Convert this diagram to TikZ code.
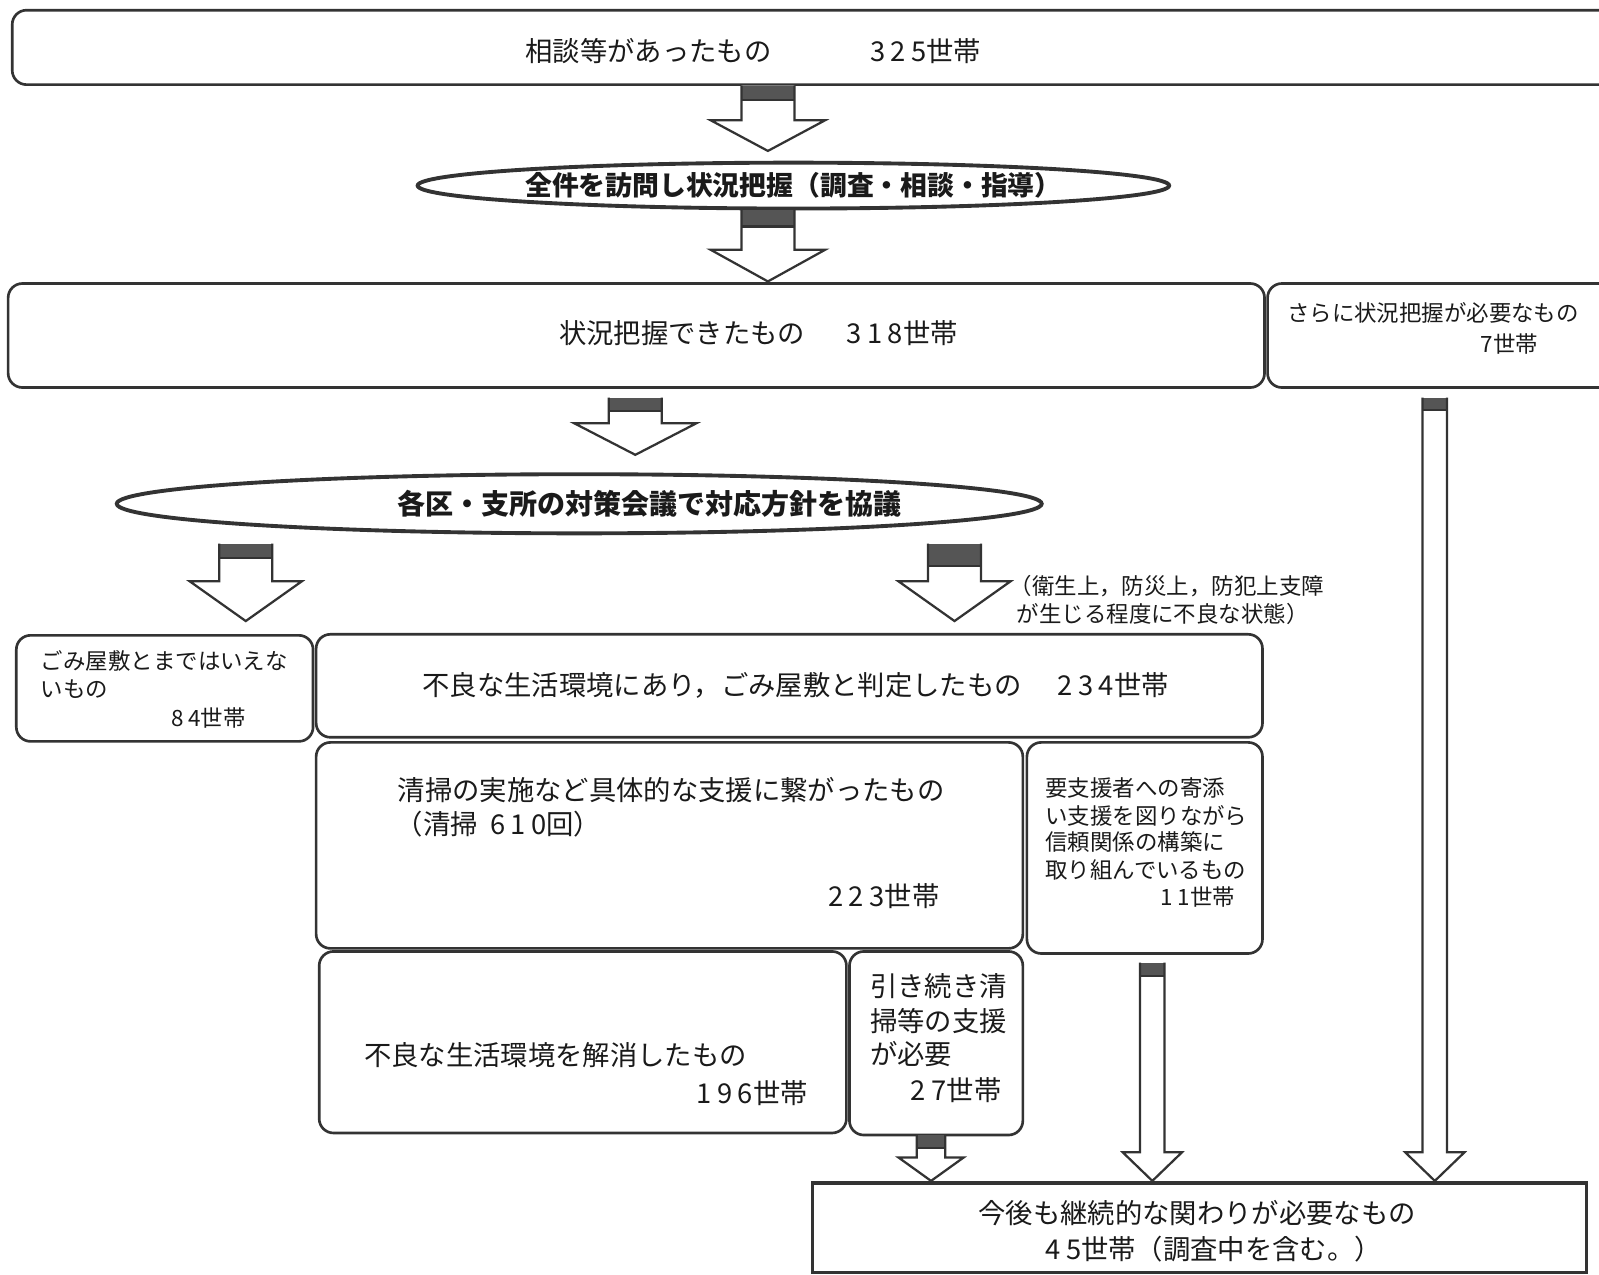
\documentclass[tikz,border=0pt]{standalone}
\usepackage{fontspec}
\setmainfont{Noto Sans CJK JP}
\usetikzlibrary{shapes.geometric}
\definecolor{ln}{HTML}{333333}
\definecolor{arrdark}{HTML}{555555}
\definecolor{txt}{HTML}{1a1a1a}
\newcommand{\nm}[1]{{\addfontfeature{LetterSpace=20}#1}}
\tikzset{
 box/.style={draw=ln, line width=2.6pt, rounded corners=14pt, anchor=north west, inner sep=0pt, outer sep=0pt},
 sqbox/.style={draw=ln, line width=3.2pt, anchor=north west, inner sep=0pt, outer sep=0pt},
 t/.style={anchor=west, inner sep=0pt, text=txt, font=\fontsize{26.8}{30}\selectfont},
 ts/.style={anchor=west, inner sep=0pt, text=txt, font=\fontsize{22}{26}\selectfont},
 tb/.style={anchor=center, inner sep=0pt, text=txt, font=\fontsize{27.5}{30}\selectfont\bfseries},
 ell/.style={draw=ln, line width=3.8pt, ellipse, inner sep=0pt, outer sep=0pt},
 arrline/.style={draw=ln, line width=2.2pt, line join=miter},
}
% #1 x centre, #2 y top, #3 half shaft, #4 head base y, #5 half head, #6 tip y, #7 dark bottom y
\newcommand{\barrow}[7]{%
 \fill[white] (#1-#3,#2) -- (#1-#3,#4) -- (#1-#5,#4) -- (#1,#6) -- (#1+#5,#4) -- (#1+#3,#4) -- (#1+#3,#2) -- cycle;
 \fill[arrdark] (#1-#3,#2) rectangle (#1+#3,#7);
 \draw[arrline] (#1-#3,#2) -- (#1-#3,#4) -- (#1-#5,#4) -- (#1,#6) -- (#1+#5,#4) -- (#1+#3,#4) -- (#1+#3,#2);
 \draw[arrline] (#1-#3,#7) -- (#1+#3,#7);
}
\begin{document}
\begin{tikzpicture}[x=1pt,y=-1pt]
\useasboundingbox (0,0) rectangle (1568,1250);
\fill[white] (0,0) rectangle (1568,1250);

% boxes
\node[box, minimum width=1580, minimum height=73] (b325) at (12,10) {};
\node[box, minimum width=1232, minimum height=102] (b318) at (8,278) {};
\node[box, minimum width=340, minimum height=102] (b7) at (1243,278) {};
\node[box, minimum width=291, minimum height=104] (b84) at (16,623) {};
\node[box, minimum width=928, minimum height=101] (b234) at (310,622) {};
\node[box, minimum width=693, minimum height=202] (b223) at (310,728) {};
\node[box, minimum width=231, minimum height=207] (b11) at (1007,728) {};
\node[box, minimum width=517, minimum height=178] (b196) at (313,933) {};
\node[box, minimum width=170, minimum height=180] (b27) at (833,933) {};
\node[sqbox, minimum width=759, minimum height=88] (bend) at (797,1160) {};

% ellipses
\node[ell, minimum width=737, minimum height=45] (e1) at (778,182) {};
\node[ell, minimum width=907, minimum height=58] (e2) at (568,494) {};

% arrows
\barrow{753}{84}{26}{118}{56}{148}{98}
\barrow{753}{206}{26}{245}{56}{276}{222}
\barrow{623}{390}{26}{415}{60}{446}{403}
\barrow{241}{533}{26}{570}{55}{609}{547}
\barrow{936}{533}{26}{570}{55}{609}{555}
\barrow{913}{1113}{14}{1135}{32}{1158}{1126}
\barrow{1130}{944}{12}{1130}{29}{1158}{957}
\barrow{1407}{390}{12}{1130}{29}{1158}{402}

% texts
\node[t] (t325a) at (515,50) {相談等があったもの};
\node[t] (t325b) at (853,50) {\nm{325}世帯};
\node[tb, font=\fontsize{26.3}{30}\selectfont\bfseries] (te1) at (778,182) {全件を訪問し状況把握（調査・相談・指導）};
\node[t] (t318a) at (548,327) {状況把握できたもの};
\node[t] (t318b) at (830,327) {\nm{318}世帯};
\node[ts] (t7a) at (1262,307) {さらに状況把握が必要なもの};
\node[ts] (t7b) at (1452,337) {7世帯};
\node[tb] (te2) at (637,494) {各区・支所の対策会議で対応方針を協議};
\node[ts] (tn1) at (990,575) {（衛生上，防災上，防犯上支障};
\node[ts] (tn2) at (997,602) {が生じる程度に不良な状態）};
\node[ts] (t84a) at (40,648) {ごみ屋敷とまではいえな};
\node[ts] (t84b) at (40,676) {いもの};
\node[ts] (t84c) at (168,704) {\nm{84}世帯};
\node[t] (t234a) at (414,672) {不良な生活環境にあり，ごみ屋敷と判定したもの};
\node[t] (t234b) at (1037,672) {\nm{234}世帯};
\node[t] (t223a) at (390,775) {清掃の実施など具体的な支援に繋がったもの};
\node[t] (t223b) at (388,808) {（清掃\ \ \nm{610}回）};
\node[t] (t223c) at (812,879) {\nm{223}世帯};
\node[ts] (t11a) at (1025,773) {要支援者への寄添};
\node[ts] (t11b) at (1025,800) {い支援を図りながら};
\node[ts] (t11c) at (1025,826) {信頼関係の構築に};
\node[ts] (t11d) at (1025,853) {取り組んでいるもの};
\node[ts] (t11e) at (1138,880) {\nm{11}世帯};
\node[t] (t196a) at (357,1035) {不良な生活環境を解消したもの};
\node[t] (t196b) at (683,1072) {\nm{196}世帯};
\node[t] (t27a) at (853,967) {引き続き清};
\node[t] (t27b) at (853,1001) {掃等の支援};
\node[t] (t27c) at (853,1034) {が必要};
\node[t] (t27d) at (893,1069) {\nm{27}世帯};
\node[t, anchor=center] (tenda) at (1174,1190) {今後も継続的な関わりが必要なもの};
\node[t] (tendb) at (1025,1225) {\nm{45}世帯（調査中を含む。）};
\end{tikzpicture}
\end{document}
